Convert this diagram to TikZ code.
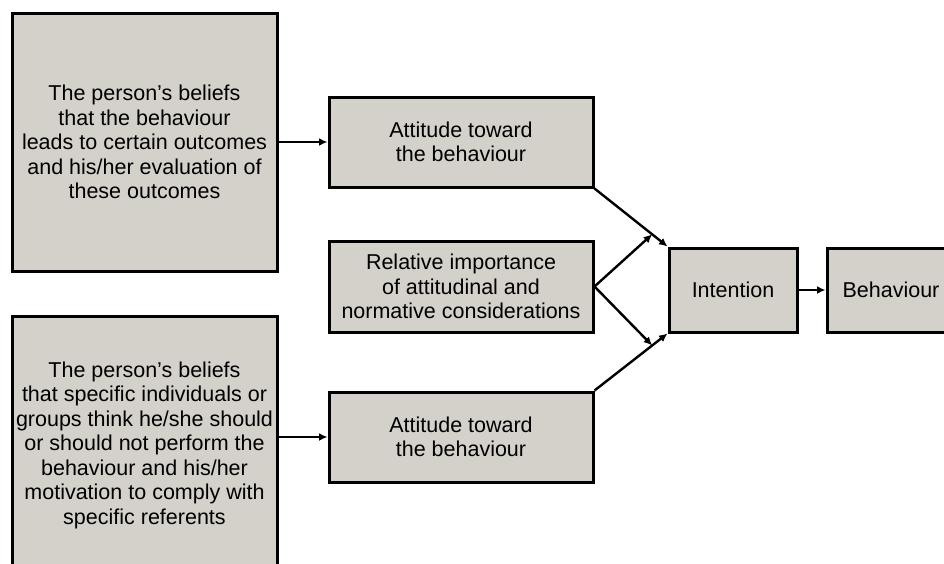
\documentclass[tikz,border=0pt]{standalone}
\usepackage{fontspec}
\setmainfont{Liberation Sans}
\usetikzlibrary{arrows.meta,calc}
\definecolor{boxfill}{RGB}{212,209,202}
\begin{document}
\begin{tikzpicture}[x=1pt,y=-1pt,
  box/.style={draw=black, line width=3pt, fill=boxfill, inner sep=0pt,
    align=center, font=\fontsize{21.5}{24.5}\selectfont},
  arr/.style={line width=2.4pt, -{Latex[length=8.5pt,width=8pt]}}]
\useasboundingbox (0,0) rectangle (944,563);
\clip (0,0) rectangle (944,563);
\fill[white] (0,0) rectangle (944,563);

% belief boxes on the left
\node[box, minimum width=265pt, minimum height=258pt] (A) at (144.5,142)
  {The person’s beliefs\\that the behaviour\\leads to certain outcomes\\and his/her evaluation of\\these outcomes};
\node[box, minimum width=265pt, minimum height=258pt] (B) at (144.5,445)
  {The person’s beliefs\\that specific individuals or\\groups think he/she should\\or should not perform the\\behaviour and his/her\\motivation to comply with\\specific referents};

% middle column
\node[box, minimum width=264pt, minimum height=90pt] (attA) at (461,142)
  {Attitude toward\\the behaviour};
\node[box, minimum width=264pt, minimum height=91pt] (rel) at (461,286.5)
  {Relative importance\\of attitudinal and\\normative considerations};
\node[box, minimum width=264pt, minimum height=90pt] (attB) at (461,437)
  {Attitude toward\\the behaviour};

% right column
\node[box, minimum width=128pt, minimum height=84pt] (int) at (733,290) {Intention};
\node[box, minimum width=128pt, minimum height=84pt] (beh) at (891,290) {Behaviour};

% connectors
\draw[arr] (A.east) -- (attA.west);
\draw[arr] (attB.west -| B.east) -- (attB.west);
\draw[arr] (attA.south east) -- (int.north west);
\draw[arr] (attB.north east) -- (int.south west);
\coordinate (up) at ($(attA.south east)!0.79!(int.north west)$);
\coordinate (dn) at ($(attB.north east)!0.79!(int.south west)$);
\draw[arr] (rel.east) -- (up);
\draw[arr] (rel.east) -- (dn);
\draw[arr] (int.east) -- (beh.west);
\end{tikzpicture}
\end{document}
